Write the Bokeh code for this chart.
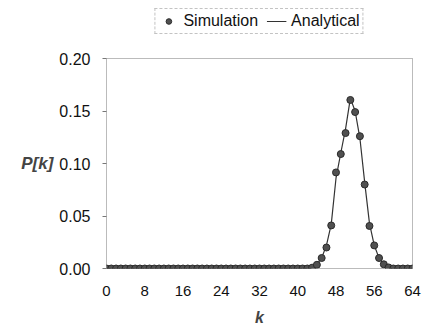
from bokeh.plotting import figure
from bokeh.layouts import column
from bokeh.models import FixedTicker, NumeralTickFormatter, Legend, LegendItem, Range1d
from bokeh.embed import file_html
from bokeh.resources import INLINE

# ---- data ----
k_values = list(range(0, 65))
sim_nonzero = {43: 0.0008, 44: 0.0035, 45: 0.0100, 46: 0.0200, 47: 0.0410,
               48: 0.0915, 49: 0.1090, 50: 0.1290, 51: 0.1605, 52: 0.1490,
               53: 0.1260, 54: 0.0800, 55: 0.0405, 56: 0.0220, 57: 0.0100,
               58: 0.0040, 59: 0.0010}
ana_nonzero = {43: 0.0010, 44: 0.0040, 45: 0.0100, 46: 0.0220, 47: 0.0420,
               48: 0.0860, 49: 0.1100, 50: 0.1330, 51: 0.1620, 52: 0.1500,
               53: 0.1240, 54: 0.0820, 55: 0.0430, 56: 0.0220, 57: 0.0100,
               58: 0.0040, 59: 0.0010}
simulation = [sim_nonzero.get(k, 0.0) for k in k_values]
analytical = [ana_nonzero.get(k, 0.0) for k in k_values]
x_ticks = [0, 8, 16, 24, 32, 40, 48, 56, 64]
y_ticks = [0.00, 0.05, 0.10, 0.15, 0.20]
series_names = ["Simulation", "Analytical"]

FONT = "Liberation Sans"
PT_STYLE = dict(size=7, fill_color="#505050", line_color="#2a2a2a", line_width=1)
LN_STYLE = dict(line_color="#333333", line_width=1.2)

# ---- main chart ----
p = figure(width=427, height=279, output_backend="svg", toolbar_location=None,
           x_range=Range1d(0, 64), y_range=Range1d(0, 0.2),
           min_border_left=106, min_border_right=15, min_border_top=8, min_border_bottom=61)
p.background_fill_color = "white"
p.border_fill_color = "white"
p.grid.visible = False
p.outline_line_color = "#777777"
p.outline_line_dash = "1 1"
p.outline_line_width = 1

p.line(k_values, analytical, **LN_STYLE)
p.scatter(k_values, simulation, **PT_STYLE)

xa = p.xaxis[0]
xa.ticker = FixedTicker(ticks=x_ticks)
xa.axis_line_color = None
xa.major_tick_line_color = None
xa.minor_tick_line_color = None
xa.major_label_standoff = 11
xa.major_label_text_font = FONT
xa.major_label_text_font_size = "15px"
xa.major_label_text_color = "#111111"
xa.axis_label = "k"
xa.axis_label_text_font = FONT
xa.axis_label_text_font_style = "bold italic"
xa.axis_label_text_font_size = "16px"
xa.axis_label_standoff = 10

ya = p.yaxis[0]
ya.ticker = FixedTicker(ticks=y_ticks)
ya.formatter = NumeralTickFormatter(format="0.00")
ya.axis_line_color = None
ya.major_tick_in = 0
ya.major_tick_out = 4
ya.major_tick_line_color = "#777777"
ya.minor_tick_line_color = None
ya.major_label_standoff = 12
ya.major_label_text_font = FONT
ya.major_label_text_font_size = "16px"
ya.major_label_text_color = "#111111"
ya.axis_label = "P[k]"
ya.axis_label_orientation = "horizontal"
ya.axis_label_text_font = FONT
ya.axis_label_text_font_style = "bold italic"
ya.axis_label_text_font_size = "17px"
ya.axis_label_standoff = 3

# ---- legend strip on top (series drawn out of view, only the legend shows) ----
pl = figure(width=427, height=50, output_backend="svg", toolbar_location=None,
            x_range=Range1d(0, 64), y_range=Range1d(1, 2),
            x_axis_location=None, y_axis_location=None,
            min_border_left=94, min_border_right=0, min_border_top=0, min_border_bottom=0)
pl.grid.visible = False
pl.outline_line_color = None
pl.background_fill_color = "white"
pl.border_fill_color = "white"
lg_line = pl.line(k_values, analytical, **LN_STYLE)
lg_pts = pl.scatter(k_values, simulation, **PT_STYLE)

legend = Legend(items=[LegendItem(label=series_names[0], renderers=[lg_pts]),
                       LegendItem(label=series_names[1], renderers=[lg_line])],
                orientation="horizontal", location="top_center",
                label_text_font=FONT, label_text_font_size="16px",
                label_text_color="#111111",
                glyph_width=20, glyph_height=14, label_height=14,
                label_standoff=5, spacing=8, padding=3, margin=8,
                border_line_color="#888888", border_line_dash="1 1",
                background_fill_color="white", background_fill_alpha=1)
pl.add_layout(legend, "center")

layout = column(pl, p, spacing=0)
open("out.html", "w").write(file_html(layout, INLINE))
